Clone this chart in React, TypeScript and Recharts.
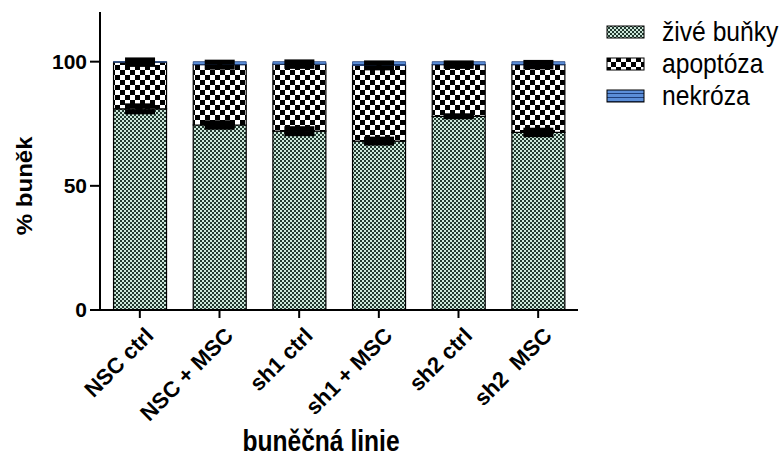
import React from 'react';
import { BarChart, Bar, XAxis, YAxis, ErrorBar } from 'recharts';

const categories = ['NSC ctrl', 'NSC + MSC', 'sh1 ctrl', 'sh1 + MSC', 'sh2 ctrl', 'sh2  MSC'];
const zive = [81, 74.5, 72, 68, 78, 71.5];
const ziveErr = [1.2, 0.9, 1.0, 0.8, 0.2, 0.9];
const apoptoza = [18.8, 24.3, 27, 30.5, 20.8, 27.3];
const apoptozaErr = [0.9, 1.0, 0.9, 1.0, 0.7, 0.9];
const nekroza = [0.2, 1.2, 1.0, 1.5, 1.2, 1.2];
const yTicks = [0, 50, 100];

const seriesNames = { zive: 'živé buňky', apoptoza: 'apoptóza', nekroza: 'nekróza' };
const xTitle = 'buněčná linie';
const yTitle = '% buněk';

const data = categories.map((c, i) => ({
  name: c,
  zive: zive[i],
  ziveErr: ziveErr[i],
  apoptoza: apoptoza[i],
  apoptozaErr: apoptozaErr[i],
  nekroza: nekroza[i],
}));

const FONT = 'Liberation Sans, Arial, sans-serif';

const XTick = (props: any) => {
  const { x, y, payload } = props;
  const tx = x + 15;
  const ty = y + 17;
  return (
    <text
      x={tx}
      y={ty}
      textAnchor="end"
      transform={`rotate(-45, ${tx}, ${ty})`}
      fontFamily={FONT}
      fontWeight="bold"
      fontSize={22}
      fill="#000"
      style={{ whiteSpace: 'pre' }}
    >
      {payload.value}
    </text>
  );
};

const XTitle = (props: any) => {
  const vb = props.viewBox || {};
  const cx = 321;
  const by = (vb.y || 310) + (vb.height || 148) - 7;
  return (
    <text
      x={0}
      y={0}
      textAnchor="middle"
      transform={`translate(${cx}, ${by}) scale(0.82, 1)`}
      fontFamily={FONT}
      fontWeight="bold"
      fontSize={30}
      fill="#000"
    >
      {xTitle}
    </text>
  );
};

const YTitle = (props: any) => {
  const vb = props.viewBox || {};
  const cx = 32;
  const cy = (vb.y || 12) + (vb.height || 298) * (1 - 50 / 120);
  return (
    <text
      x={0}
      y={0}
      textAnchor="middle"
      transform={`translate(${cx}, ${cy}) rotate(-90) scale(1, 0.9)`}
      fontFamily={FONT}
      fontWeight="bold"
      fontSize={24}
      fill="#000"
    >
      {yTitle}
    </text>
  );
};

const legendItems = [
  { key: 'zive', fill: 'url(#patZive)' },
  { key: 'apoptoza', fill: 'url(#patApop)' },
  { key: 'nekroza', fill: 'url(#patNek)' },
];

const LegendBox = () => (
  <div style={{ position: 'absolute', left: 606, top: 16, fontFamily: FONT }}>
    {legendItems.map((it) => (
      <div key={it.key} style={{ display: 'flex', alignItems: 'center', height: 32 }}>
        <svg width={40} height={14} style={{ marginRight: 16, display: 'block' }}>
          <rect x={1} y={1} width={37} height={12} fill={it.fill} stroke="#000" strokeWidth={1} />
        </svg>
        <span
          style={{
            fontSize: 28,
            color: '#000',
            lineHeight: '30px',
            display: 'inline-block',
            transform: 'scaleX(0.88)',
            transformOrigin: 'left center',
            whiteSpace: 'nowrap',
          }}
        >
          {(seriesNames as any)[it.key]}
        </span>
      </div>
    ))}
  </div>
);

export default function App() {
  return (
    <div style={{ position: 'absolute', left: 0, top: 0, width: 784, height: 458, background: '#fff', overflow: 'hidden' }}>
      <BarChart
        width={784}
        height={458}
        data={data}
        margin={{ top: 12, right: 206, bottom: 0, left: 0 }}
        barCategoryGap="17%"
      >
        <defs>
          <pattern id="patZive" width="4" height="4" patternUnits="userSpaceOnUse">
            <rect width="4" height="4" fill="#cde8db" />
            <rect x="0" y="0" width="2" height="2" fill="#22392f" />
            <rect x="2" y="2" width="2" height="2" fill="#22392f" />
          </pattern>
          <pattern id="patApop" width="10" height="10" patternUnits="userSpaceOnUse">
            <rect width="10" height="10" fill="#fff" />
            <rect x="0" y="0" width="5" height="5" fill="#000" />
            <rect x="5" y="5" width="5" height="5" fill="#000" />
          </pattern>
          <pattern id="patNek" width="4" height="4" patternUnits="userSpaceOnUse">
            <rect width="4" height="4" fill="#5b8ed8" />
            <rect x="0" y="0" width="4" height="1" fill="#1f3f7a" />
          </pattern>
        </defs>
        <XAxis
          dataKey="name"
          height={148}
          tick={<XTick />}
          tickSize={8}
          axisLine={{ stroke: '#000', strokeWidth: 2 }}
          tickLine={{ stroke: '#000', strokeWidth: 2 }}
          interval={0}
          label={<XTitle />}
        />
        <YAxis
          width={100}
          domain={[0, 120]}
          ticks={yTicks}
          tickSize={10}
          tickMargin={3}
          axisLine={{ stroke: '#000', strokeWidth: 2 }}
          tickLine={{ stroke: '#000', strokeWidth: 2 }}
          tick={{ fontFamily: FONT, fontWeight: 'bold', fontSize: 21, fill: '#000' }}
          label={<YTitle />}
        />
        <Bar dataKey="zive" name={seriesNames.zive} stackId="a" fill="url(#patZive)" stroke="#000" strokeWidth={1.2} isAnimationActive={false}>
          <ErrorBar dataKey="ziveErr" width={15} stroke="#000" strokeWidth={5} direction="y" />
        </Bar>
        <Bar dataKey="apoptoza" name={seriesNames.apoptoza} stackId="a" fill="url(#patApop)" stroke="#000" strokeWidth={1.2} isAnimationActive={false}>
          <ErrorBar dataKey="apoptozaErr" width={15} stroke="#000" strokeWidth={5} direction="y" />
        </Bar>
        <Bar dataKey="nekroza" name={seriesNames.nekroza} stackId="a" fill="url(#patNek)" stroke="#1f3f7a" strokeWidth={0.8} isAnimationActive={false} />
      </BarChart>
      <LegendBox />
    </div>
  );
}
